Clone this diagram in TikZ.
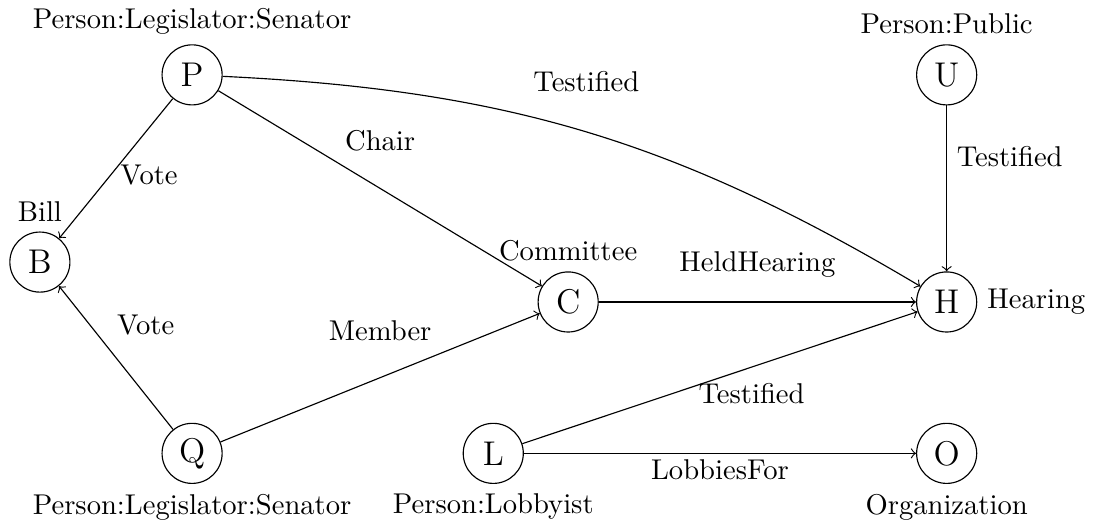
\documentclass[tikz,border=0pt]{standalone}
\usetikzlibrary{arrows,positioning}
\tikzset{ent/.style={draw,circle,minimum size=21pt,inner sep=0pt,font=\large}}

\begin{document}
\begin{tikzpicture}
\useasboundingbox (0,0) rectangle (13.44,6.45);

\node[ent,label=above:{Person:Legislator:Senator}] (P) at (2.36,5.53) {P};
\node[ent,label=above:{Bill}] (B) at (0.49,3.23) {B};
\node[ent,label=above:{Committee}] (C) at (6.98,2.74) {C};
\node[ent,label=right:{Hearing}] (H) at (11.63,2.74) {H};
\node[ent,label=above:{Person:Public}] (U) at (11.63,5.53) {U};
\node[ent,label=below:{Person:Legislator:Senator}] (Q) at (2.36,0.88) {Q};
\node[ent,label=below:{Person:Lobbyist}] (L) at (6.06,0.88) {L};
\node[ent,label=below:{Organization}] (O) at (11.63,0.88) {O};

\draw[->] (P) -- node[pos=0.55,right] {Vote} (B);
\draw[->] (Q) -- node[pos=0.73,right=6pt] {Vote} (B);
\draw[->] (P) -- node[midway,above=9.5pt] {Chair} (C);
\draw[->] (Q) -- node[midway,above=9.5pt] {Member} (C);
\draw[->] (P) to[bend left=14] node[pos=0.5,above=10.5pt] {Testified} (H);
\draw[->] (U) -- node[pos=0.31,right] {Testified} (H);
\draw[->] (C) -- node[midway,above=5pt] {HeldHearing} (H);
\draw[->] (L) -- node[pos=0.58,below=2pt] {Testified} (H);
\draw[->] (L) -- node[midway,below=-1.5pt] {LobbiesFor} (O);
\end{tikzpicture}
\end{document}
